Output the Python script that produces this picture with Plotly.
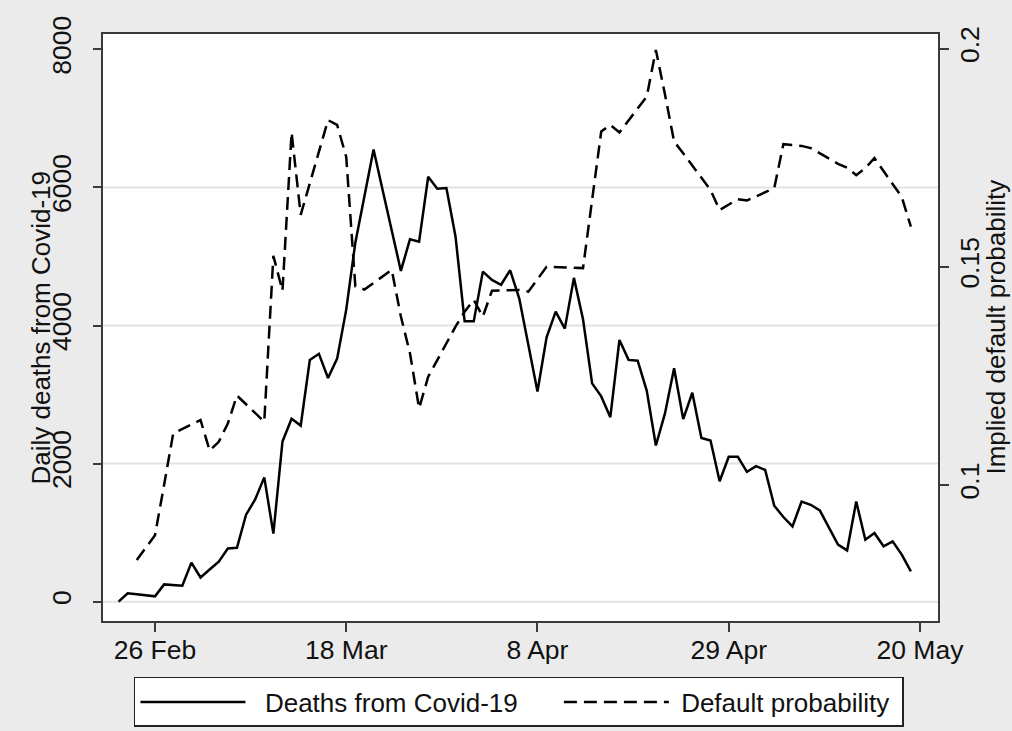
import pandas as pd
import plotly.graph_objects as go

# ---- data ----
death_start = "2020-02-22"
deaths = [0, 120, 107, 92, 77, 250, 240, 230, 565, 350,
          465, 580, 770, 780, 1260, 1480, 1800, 985, 2320, 2650,
          2550, 3500, 3590, 3240, 3520, 4230, 5200, 5900, 6550, 5960,
          5370, 4790, 5250, 5215, 6155, 5980, 5990, 5290, 4060, 4060,
          4780, 4660, 4590, 4800, 4390, 3700, 3045, 3830, 4200, 3955,
          4690, 4090, 3162, 2973, 2672, 3790, 3502, 3490, 3054, 2262,
          2726, 3381, 2645, 3026, 2371, 2333, 1745, 2099, 2099, 1881,
          1962, 1907, 1390, 1226, 1090, 1450, 1403, 1323, 1070, 826,
          743, 1450, 898, 995, 802, 874, 681, 439]
death_dates = pd.date_range(death_start, periods=len(deaths), freq="D")

default_dates = ["2020-02-24", "2020-02-25", "2020-02-26", "2020-02-27", "2020-02-28",
                 "2020-03-02", "2020-03-03", "2020-03-04", "2020-03-05", "2020-03-06",
                 "2020-03-09", "2020-03-10", "2020-03-11", "2020-03-12", "2020-03-13",
                 "2020-03-16", "2020-03-17", "2020-03-18", "2020-03-19", "2020-03-20",
                 "2020-03-23", "2020-03-24", "2020-03-25", "2020-03-26", "2020-03-27",
                 "2020-03-30", "2020-03-31", "2020-04-01", "2020-04-02", "2020-04-03",
                 "2020-04-06", "2020-04-07", "2020-04-08", "2020-04-09",
                 "2020-04-13", "2020-04-14", "2020-04-15", "2020-04-16", "2020-04-17",
                 "2020-04-20", "2020-04-21", "2020-04-22", "2020-04-23", "2020-04-24",
                 "2020-04-27", "2020-04-28", "2020-04-29", "2020-04-30", "2020-05-01",
                 "2020-05-04", "2020-05-05", "2020-05-06", "2020-05-07", "2020-05-08",
                 "2020-05-11", "2020-05-12", "2020-05-13", "2020-05-14", "2020-05-15",
                 "2020-05-18", "2020-05-19"]
default_prob = [0.0828, 0.0857, 0.0885, 0.1000, 0.1118,
                0.1149, 0.1079, 0.1099, 0.1141, 0.1205,
                0.1145, 0.1525, 0.1445, 0.1808, 0.1619,
                0.1836, 0.1825, 0.1752, 0.1455, 0.1448,
                0.1493, 0.1386, 0.1302, 0.1176, 0.1248,
                0.1363, 0.1397, 0.1424, 0.1386, 0.1445,
                0.1447, 0.1443, 0.1471, 0.1500,
                0.1497, 0.1655, 0.1810, 0.1825, 0.1808,
                0.1890, 0.1997, 0.1895, 0.1787, 0.1760,
                0.1676, 0.1630, 0.1643, 0.1655, 0.1652,
                0.1680, 0.1781, 0.1779, 0.1777, 0.1772,
                0.1736, 0.1727, 0.1710, 0.1726, 0.1749,
                0.1660, 0.1592]

x_tick_dates = ["2020-02-26", "2020-03-18", "2020-04-08", "2020-04-29", "2020-05-20"]
x_tick_text = ["26 Feb", "18 Mar", "8 Apr", "29 Apr", "20 May"]
y_ticks = [0, 2000, 4000, 6000, 8000]
y_grid = [0, 2000, 4000, 6000]
y2_ticks = [0.1, 0.15, 0.2]
y2_tick_text = ["0.1", "0.15", "0.2"]

series_names = ["Deaths from Covid-19", "Default probability"]
left_title = "Daily deaths from Covid-19"
right_title = "Implied default probability"

FONT = "Liberation Sans, Arial, sans-serif"
AX = "#3a3a3a"
BG = "#ebebeb"
FS = 26
NB = "\u00a0"

fig = go.Figure()
fig.add_trace(go.Scatter(x=death_dates, y=deaths, mode="lines",
                         name=NB * 2 + series_names[0] + NB * 5,
                         line=dict(color="black", width=2.5)))
fig.add_trace(go.Scatter(x=default_dates, y=default_prob, mode="lines",
                         name=NB + series_names[1] + NB, yaxis="y2",
                         line=dict(color="black", width=2.5, dash="13px,7px")))

for g in y_grid:
    fig.add_shape(type="line", xref="paper", x0=0, x1=1, yref="y", y0=g, y1=g,
                  line=dict(color="#e2e2e2", width=2), layer="below")

fig.add_annotation(text=left_title, xref="paper", yref="paper", x=-0.0754, y=0.5,
                   textangle=-90, showarrow=False, xanchor="center", yanchor="middle",
                   font=dict(size=FS))
fig.add_annotation(text=right_title, xref="paper", yref="paper", x=1.0683, y=0.5,
                   textangle=-90, showarrow=False, xanchor="center", yanchor="middle",
                   font=dict(size=FS))

fig.update_layout(
    width=1012, height=731,
    margin=dict(l=103, r=74, t=34, b=110),
    paper_bgcolor=BG, plot_bgcolor="white",
    font=dict(family=FONT, size=FS, color="#111"),
    showlegend=True,
    legend=dict(orientation="h", xref="container", yref="container",
                x=0.5128, xanchor="center", y=0.0739, yanchor="top",
                bgcolor="white", bordercolor="#222", borderwidth=1.5,
                itemwidth=105, font=dict(size=FS), traceorder="normal"),
    xaxis=dict(type="date", range=["2020-02-20 07:00", "2020-05-21 23:30"],
               tickvals=x_tick_dates, ticktext=x_tick_text, automargin=False,
               showgrid=False, zeroline=False,
               showline=True, linecolor=AX, linewidth=1.5, mirror=True,
               ticks="outside", ticklen=9, tickwidth=1.5, tickcolor=AX,
               ticklabelstandoff=-5, tickfont=dict(size=26.5)),
    yaxis=dict(range=[-280, 8222], tickvals=y_ticks, showgrid=False, zeroline=False,
               automargin=False,
               showline=True, linecolor=AX, linewidth=1.5,
               ticks="outside", ticklen=8, tickwidth=1.5, tickcolor=AX,
               tickangle=-90, ticklabelstandoff=12, tickfont=dict(size=26.5)),
    yaxis2=dict(range=[0.06884, 0.20334], overlaying="y", side="right",
                tickvals=y2_ticks, ticktext=y2_tick_text, automargin=False,
                showgrid=False, zeroline=False,
                showline=True, linecolor=AX, linewidth=1.5,
                ticks="outside", ticklen=9, tickwidth=1.5, tickcolor=AX,
                tickangle=-90, ticklabelstandoff=-2, tickfont=dict(size=26.5)),
)

# remove the browser's default 8px page margin so the figure fills the window
fig.write_html("out.html",
               config={"displayModeBar": False},
               post_script="document.body.style.margin='0';"
                           "document.body.style.background='" + BG + "';")
